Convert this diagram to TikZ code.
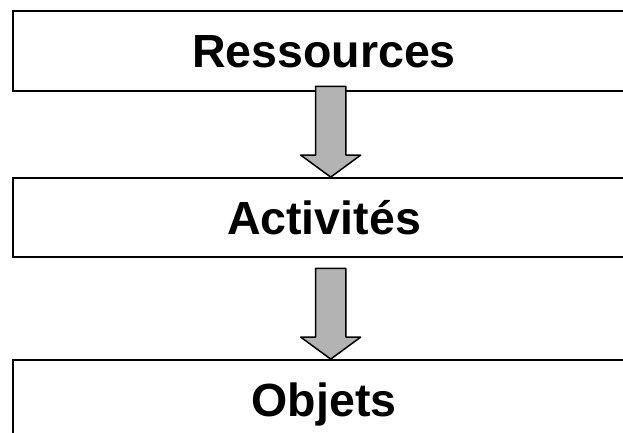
\documentclass[tikz,border=0pt]{standalone}
\usepackage{fontspec}
\setmainfont{Liberation Sans}
\usetikzlibrary{calc}
\definecolor{arrowgray}{HTML}{B3B3B3}
% block arrow pointing down to the given tip coordinate
\newcommand\flowarrow[1]{%
  \draw[flow] ($(#1)+(-15.2,-90.7)$) -- ($(#1)+(15.2,-90.7)$)
    -- ($(#1)+(15.2,-22)$) -- ($(#1)+(30,-22)$) -- (#1)
    -- ($(#1)+(-30,-22)$) -- ($(#1)+(-15.2,-22)$) -- cycle;}
\begin{document}
\begin{tikzpicture}[x=1pt,y=-1pt,
  box/.style={draw, line width=1.8pt, minimum width=622pt, inner sep=0pt,
    text height=33.3pt, text depth=0pt,
    font=\fontsize{46.5}{50}\selectfont\bfseries},
  flow/.style={draw, line width=1.5pt, fill=arrowgray, line join=round}]
\useasboundingbox (0,0) rectangle (623,432);
\node[box, minimum height=80pt] (res) at (324,51) {Ressources};
\node[box, minimum height=79pt] (act) at (324,217.5) {Activités};
\node[box, minimum height=79pt] (obj) at (324,399.5) {Objets};
\coordinate (t1) at ({330.7pt},0 |- act.north);
\coordinate (t2) at ({330.7pt},0 |- obj.north);
\flowarrow{t1}
\flowarrow{t2}
\end{tikzpicture}
\end{document}
